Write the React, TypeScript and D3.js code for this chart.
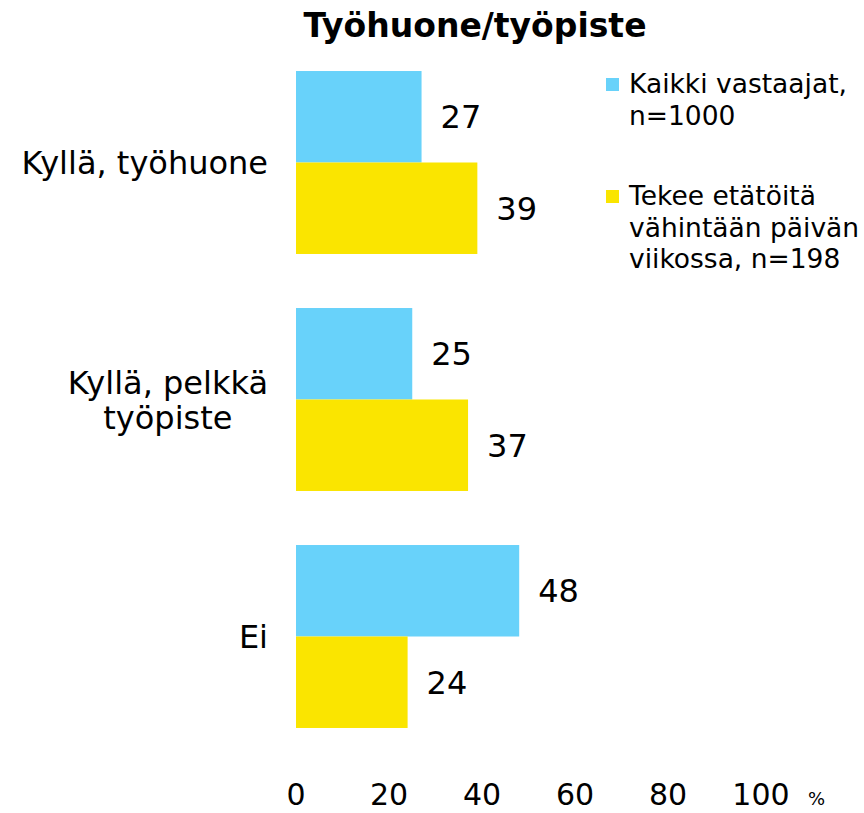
import React, { useEffect, useRef } from "react";
import * as d3 from "d3";

const title = "Työhuone/työpiste";
const categories: string[][] = [["Kyllä, työhuone"], ["Kyllä, pelkkä", "työpiste"], ["Ei"]];
const seriesNames: string[][] = [
  ["Kaikki vastaajat,", "n=1000"],
  ["Tekee etätöitä", "vähintään päivän", "viikossa, n=198"],
];
const allRespondents = [27, 25, 48];
const remoteWorkers = [39, 37, 24];
const tickValues = [0, 20, 40, 60, 80, 100];
const unitLabel = "%";
const colors = ["#68D2FA", "#FAE500"];

const W = 864;
const H = 813;
const FONT = "'DejaVu Sans', Verdana, sans-serif";

export default function App() {
  const ref = useRef<SVGSVGElement>(null);

  useEffect(() => {
    const svg = d3.select(ref.current);
    svg.selectAll("*").remove();

    const series = [allRespondents, remoteWorkers];
    const x = d3.scaleLinear().domain([0, 100]).range([296, 761]);
    const y = d3
      .scaleBand<number>()
      .domain(d3.range(categories.length))
      .range([44, 755])
      .paddingInner(0.228)
      .paddingOuter(0.114);
    const inner = d3.scaleBand<number>().domain([0, 1]).range([0, y.bandwidth()]);

    // title
    svg
      .append("text")
      .attr("x", 475)
      .attr("y", 37)
      .attr("text-anchor", "middle")
      .attr("font-family", FONT)
      .attr("font-weight", "bold")
      .attr("font-size", 33)
      .attr("fill", "#000")
      .text(title);

    // bars
    series.forEach((vals, si) => {
      const g = svg.append("g");
      g.selectAll("rect")
        .data(vals)
        .join("rect")
        .attr("x", x(0))
        .attr("y", (_, i) => (y(i) as number) + (inner(si) as number))
        .attr("width", (d) => x(d) - x(0))
        .attr("height", inner.bandwidth())
        .attr("fill", colors[si]);
      g.selectAll("text")
        .data(vals)
        .join("text")
        .attr("x", (d) => x(d) + 19)
        .attr("y", (_, i) => (y(i) as number) + (inner(si) as number) + inner.bandwidth() / 2 + 11.5)
        .attr("font-family", FONT)
        .attr("font-size", 32)
        .attr("fill", "#000")
        .text((d) => String(d));
    });

    // category labels
    const labelRight = 268;
    const lineH = 35;
    categories.forEach((lines, i) => {
      const cy = (y(i) as number) + y.bandwidth() / 2;
      const t = svg
        .append("text")
        .attr("font-family", FONT)
        .attr("font-size", 32)
        .attr("fill", "#000");
      const spans = lines.map((ln, li) =>
        t
          .append("tspan")
          .attr("y", cy + 11.5 + (li - (lines.length - 1) / 2) * lineH)
          .text(ln)
      );
      const widths = spans.map((s) => (s.node() as SVGTSpanElement).getComputedTextLength());
      const maxW = d3.max(widths) as number;
      const center = labelRight - maxW / 2;
      t.attr("text-anchor", "middle");
      spans.forEach((s) => s.attr("x", center));
    });

    // x axis labels
    svg
      .append("g")
      .selectAll("text")
      .data(tickValues)
      .join("text")
      .attr("x", (d) => x(d))
      .attr("y", 805)
      .attr("text-anchor", "middle")
      .attr("font-family", FONT)
      .attr("font-size", 30)
      .attr("fill", "#000")
      .text((d) => String(d));
    svg
      .append("text")
      .attr("x", 808)
      .attr("y", 805)
      .attr("font-family", FONT)
      .attr("font-size", 18)
      .attr("fill", "#000")
      .text(unitLabel);

    // legend
    const legendTops = [93, 205];
    const legendLH = [32, 31.5];
    seriesNames.forEach((lines, si) => {
      const base = legendTops[si];
      svg
        .append("rect")
        .attr("x", 606)
        .attr("y", base - 15)
        .attr("width", 13)
        .attr("height", 13)
        .attr("fill", colors[si]);
      const t = svg
        .append("text")
        .attr("font-family", FONT)
        .attr("font-size", 26.5)
        .attr("fill", "#000");
      lines.forEach((ln, li) => {
        t.append("tspan").attr("x", 629).attr("y", base + li * legendLH[si]).text(ln);
      });
    });
  }, []);

  return (
    <svg
      ref={ref}
      width={W}
      height={H}
      style={{ position: "absolute", left: 0, top: 0, background: "#fff" }}
    />
  );
}
